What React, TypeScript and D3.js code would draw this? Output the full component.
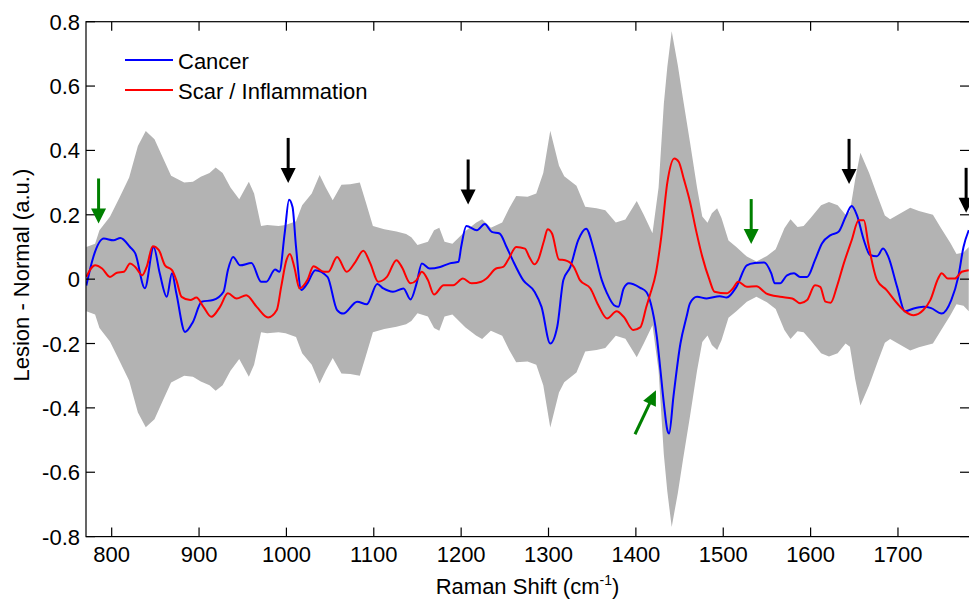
import React from "react";
import * as d3 from "d3";

// Raman difference spectra (lesion minus normal), [shift cm^-1, value]
const cancer: [number, number][] = [
  [771,-0.02],[779,0.069],[791,0.126],[802,0.121],[810,0.128],[821,0.10],[827,0.08],[838,-0.028],[848,0.10],[855,0.018],[863,-0.055],[869,0.018],[874,-0.044],[884,-0.164],[893,-0.133],[903,-0.07],[916,-0.065],[928,-0.039],[933,0.028],[939,0.069],[947,0.043],[960,0.05],[971,-0.008],[977,-0.008],[987,0.03],[992,0.023],[998,0.142],[1003,0.247],[1007,0.224],[1011,0.10],[1017,-0.034],
  [1024,-0.013],[1033,0.028],[1047,0.007],[1058,-0.096],[1065,-0.107],[1081,-0.07],[1092,-0.078],[1104,-0.015],[1111,-0.029],[1122,-0.039],[1134,-0.029],[1142,-0.063],[1149,-0.013],[1155,0.049],[1164,0.033],[1176,0.038],[1187,0.049],[1197,0.054],[1200,0.10],[1206,0.165],[1218,0.152],[1227,0.171],[1235,0.147],[1244,0.142],[1252,0.10],[1259,0.059],[1271,-0.003],[1284,-0.039],[1292,-0.086],
  [1302,-0.20],[1310,-0.148],[1317,-0.003],[1325,0.038],[1334,0.121],[1343,0.157],[1352,0.09],[1361,-0.003],[1367,-0.044],[1375,-0.081],[1380,-0.086],[1386,-0.029],[1392,-0.013],[1405,-0.027],[1412,-0.04],[1417,-0.075],[1424,-0.179],[1428,-0.28],[1432,-0.385],[1436,-0.469],[1438,-0.48],[1443,-0.365],[1451,-0.20],[1458,-0.117],[1462,-0.075],[1470,-0.055],[1481,-0.06],[1496,-0.053],[1504,-0.057],[1515,-0.024],[1527,0.043],[1536,0.05],[1547,0.052],[1555,0.018],[1559,-0.013],
  [1565,-0.013],[1573,0.012],[1581,0.018],[1588,0.007],[1596,0.007],[1605,0.059],[1613,0.111],[1623,0.137],[1632,0.147],[1640,0.193],[1647,0.227],[1653,0.199],[1661,0.121],[1668,0.075],[1676,0.071],[1683,0.095],[1689,0.069],[1699,-0.024],[1708,-0.10],[1718,-0.091],[1729,-0.086],[1738,-0.09],[1750,-0.107],[1761,-0.065],[1769,0.007],[1775,0.10],[1781,0.152],
];

const scar: [number, number][] = [
  [771,0.007],[781,0.043],[789,0.033],[798,0.007],[806,0.02],[814,0.023],[821,0.049],[827,0.038],[835,0.012],[840,0.038],[847,0.102],[854,0.09],[861,0.043],[869,0.028],[874,-0.003],[880,-0.055],[890,-0.065],[897,-0.057],[905,-0.086],[914,-0.117],[924,-0.086],[933,-0.044],[943,-0.06],[954,-0.05],[966,-0.086],[979,-0.119],[989,-0.096],[994,-0.024],[1000,0.059],[1004,0.078],[1009,0.038],[1015,-0.029],
  [1024,-0.003],[1031,0.04],[1043,0.023],[1048,0.023],[1058,0.069],[1069,0.023],[1079,0.054],[1088,0.088],[1096,0.049],[1105,-0.008],[1115,0.007],[1126,0.059],[1132,0.038],[1142,-0.013],[1149,-0.003],[1155,0.023],[1162,-0.003],[1169,-0.048],[1180,-0.019],[1191,-0.019],[1202,0.002],[1212,-0.013],[1223,-0.008],[1229,0.002],[1240,0.033],[1248,0.038],[1254,0.061],[1263,0.10],[1273,0.095],[1278,0.069],[1284,0.046],[1288,0.059],
  [1295,0.121],[1299,0.155],[1304,0.142],[1312,0.061],[1319,0.059],[1329,0.038],[1336,-0.003],[1348,-0.029],[1357,-0.081],[1367,-0.122],[1378,-0.10],[1386,-0.117],[1397,-0.158],[1405,-0.15],[1412,-0.086],[1416,-0.05],[1423,0.02],[1429,0.13],[1436,0.30],[1444,0.375],[1449,0.365],[1455,0.31],[1462,0.24],[1469,0.15],[1476,0.07],[1484,0.0],[1490,-0.039],[1504,-0.044],[1511,-0.029],[1517,-0.008],[1527,-0.024],[1538,-0.022],[1549,-0.044],
  [1565,-0.055],[1579,-0.06],[1588,-0.075],[1596,-0.065],[1605,-0.019],[1611,-0.024],[1617,-0.07],[1623,-0.073],[1630,-0.024],[1638,0.049],[1647,0.121],[1655,0.183],[1661,0.183],[1666,0.111],[1676,-0.003],[1687,-0.034],[1699,-0.075],[1708,-0.10],[1718,-0.112],[1729,-0.096],[1737,-0.065],[1746,0.002],[1750,0.018],[1757,0.002],[1765,0.002],[1773,0.023],[1781,0.028],
];

// Half-width of the grey significance band (drawn as +/- around zero)
const band: [number, number][] = [
  [771,0.10],[781,0.11],[786,0.152],[798,0.194],[809,0.254],[820,0.316],[830,0.414],[839,0.46],[849,0.435],[859,0.375],[868,0.321],[883,0.30],[893,0.303],[902,0.318],[912,0.33],[919,0.347],[927,0.33],[936,0.285],[946,0.248],[957,0.303],[963,0.266],[971,0.165],[978,0.168],[991,0.165],[999,0.168],[1011,0.18],[1018,0.23],
  [1029,0.266],[1038,0.324],[1045,0.285],[1053,0.245],[1063,0.293],[1073,0.295],[1084,0.30],[1091,0.238],[1099,0.165],[1112,0.155],[1126,0.148],[1137,0.14],[1143,0.13],[1150,0.106],[1162,0.116],[1169,0.152],[1175,0.16],[1181,0.116],[1190,0.11],[1205,0.15],[1217,0.175],[1224,0.186],[1234,0.16],[1247,0.176],[1255,0.22],[1263,0.258],[1276,0.256],[1286,0.266],
  [1294,0.33],[1302,0.461],[1312,0.352],[1318,0.32],[1332,0.29],[1342,0.225],[1355,0.22],[1365,0.214],[1377,0.176],[1388,0.185],[1401,0.243],[1409,0.20],[1419,0.143],[1426,0.285],[1432,0.545],[1436,0.66],[1441,0.77],[1448,0.665],[1454,0.56],[1462,0.425],[1470,0.285],[1476,0.195],[1482,0.175],[1487,0.205],[1493,0.22],[1498,0.19],[1506,0.12],[1515,0.10],[1527,0.07],[1538,0.055],[1550,0.072],[1560,0.093],
  [1570,0.158],[1577,0.186],[1585,0.162],[1592,0.165],[1600,0.19],[1612,0.23],[1621,0.24],[1631,0.23],[1640,0.2],[1645,0.21],[1651,0.31],[1657,0.393],[1667,0.33],[1677,0.255],[1685,0.198],[1691,0.186],[1700,0.2],[1714,0.222],[1724,0.212],[1740,0.2],[1749,0.16],[1760,0.112],[1767,0.078],[1775,0.083],[1781,0.10],
];

const xTicks = [800, 900, 1000, 1100, 1200, 1300, 1400, 1500, 1600, 1700];
const yTicks = [-0.8, -0.6, -0.4, -0.2, 0, 0.2, 0.4, 0.6, 0.8];

// Peak markers: [shift, value at arrow tip]
const blackArrows: [number, number][] = [[1002, 0.299], [1208, 0.232], [1644, 0.296], [1778, 0.206]];
const greenArrows: [number, number][] = [[785, 0.173], [1532, 0.109]];
// Slanted marker: tail and tip
const slantArrow: [number, number][] = [[1399, -0.482], [1423, -0.345]];

const W = 969;
const H = 599;
const left = 86, right = 969, top = 21.7, bottom = 536.6;
const FONT = "'Liberation Sans', Arial, Helvetica, sans-serif";

const x = d3.scaleLinear().domain([770.6, 1781.3]).range([left, right]);
const y = d3.scaleLinear().domain([-0.8, 0.8]).range([bottom, top]);

const linePath = d3
  .line<[number, number]>()
  .x((d) => x(d[0]))
  .y((d) => y(d[1]))
  .curve(d3.curveMonotoneX);

const bandPath = d3
  .area<[number, number]>()
  .x((d) => x(d[0]))
  .y0((d) => y(-d[1]))
  .y1((d) => y(d[1]))
  .curve(d3.curveLinear);

function DownArrow({ px, py, color }: { px: number; py: number; color: string }) {
  const len = 45, head = 15, hw = 7.5;
  return (
    <g>
      <line x1={px} y1={py - len} x2={px} y2={py - head + 2} stroke={color} strokeWidth={3} />
      <polygon points={`${px - hw},${py - head} ${px + hw},${py - head} ${px},${py}`} fill={color} />
    </g>
  );
}

function SlantArrow({ x0, y0, x1, y1, color }: { x0: number; y0: number; x1: number; y1: number; color: string }) {
  const dx = x1 - x0, dy = y1 - y0;
  const L = Math.hypot(dx, dy);
  const ux = dx / L, uy = dy / L;
  const nx = -uy, ny = ux;
  const head = 15, hw = 7;
  const bx = x1 - ux * head, by = y1 - uy * head;
  return (
    <g>
      <line x1={x0} y1={y0} x2={bx + ux * 2} y2={by + uy * 2} stroke={color} strokeWidth={3} />
      <polygon
        points={`${bx + nx * hw},${by + ny * hw} ${bx - nx * hw},${by - ny * hw} ${x1},${y1}`}
        fill={color}
      />
    </g>
  );
}

export default function App() {
  const tickLen = 9;
  return (
    <svg
      width={W}
      height={H}
      style={{ position: "absolute", left: 0, top: 0, display: "block", background: "#fff" }}
      fontFamily={FONT}
    >
      <defs>
        <clipPath id="plot-area">
          <rect x={left} y={top} width={right - left} height={bottom - top} />
        </clipPath>
      </defs>
      <rect x={0} y={0} width={W} height={H} fill="#fff" />

      <g clipPath="url(#plot-area)">
        <path d={bandPath(band) || ""} fill="#b3b3b3" stroke="none" />
        <path d={linePath(cancer) || ""} fill="none" stroke="#0000ff" strokeWidth={2} strokeLinejoin="round" />
        <path d={linePath(scar) || ""} fill="none" stroke="#ff0000" strokeWidth={2} strokeLinejoin="round" />
      </g>

      {/* axes box */}
      <rect x={left} y={top} width={right - left + 1} height={bottom - top} fill="none" stroke="#000" strokeWidth={1.2} />

      {xTicks.map((t) => (
        <g key={`xt${t}`}>
          <line x1={x(t)} x2={x(t)} y1={bottom} y2={bottom - tickLen} stroke="#000" strokeWidth={1.2} />
          <line x1={x(t)} x2={x(t)} y1={top} y2={top + tickLen} stroke="#000" strokeWidth={1.2} />
          <text x={x(t)} y={bottom + 25} textAnchor="middle" fontSize={22} fill="#000">
            {t}
          </text>
        </g>
      ))}
      {yTicks.map((t) => (
        <g key={`yt${t}`}>
          <line x1={left} x2={left + tickLen} y1={y(t)} y2={y(t)} stroke="#000" strokeWidth={1.2} />
          <line x1={right - tickLen} x2={right} y1={y(t)} y2={y(t)} stroke="#000" strokeWidth={1.2} />
          <text x={80} y={y(t) + 8} textAnchor="end" fontSize={22} fill="#000">
            {t === 0 ? "0" : t.toFixed(1)}
          </text>
        </g>
      ))}

      {/* axis titles */}
      <text x={(left + right) / 2} y={594} textAnchor="middle" fontSize={22} fill="#000">
        Raman Shift (cm
        <tspan fontSize={14} dy={-9}>-1</tspan>
        <tspan dy={9}>)</tspan>
      </text>
      <text
        transform={`translate(29, ${(top + bottom) / 2 - 4}) rotate(-90)`}
        textAnchor="middle"
        fontSize={22}
        fill="#000"
      >
        Lesion - Normal (a.u.)
      </text>

      {/* legend */}
      <g>
        <line x1={125} x2={173} y1={60} y2={60} stroke="#0000ff" strokeWidth={2} />
        <text x={178} y={69} fontSize={22} fill="#000">Cancer</text>
        <line x1={125} x2={173} y1={90} y2={90} stroke="#ff0000" strokeWidth={2} />
        <text x={178} y={99} fontSize={22} fill="#000">Scar / Inflammation</text>
      </g>

      {/* markers */}
      {blackArrows.map((a, i) => (
        <DownArrow key={`ba${i}`} px={x(a[0])} py={y(a[1])} color="#000" />
      ))}
      {greenArrows.map((a, i) => (
        <DownArrow key={`ga${i}`} px={x(a[0])} py={y(a[1])} color="#008000" />
      ))}
      <SlantArrow
        x0={x(slantArrow[0][0])}
        y0={y(slantArrow[0][1])}
        x1={x(slantArrow[1][0])}
        y1={y(slantArrow[1][1])}
        color="#008000"
      />
    </svg>
  );
}
